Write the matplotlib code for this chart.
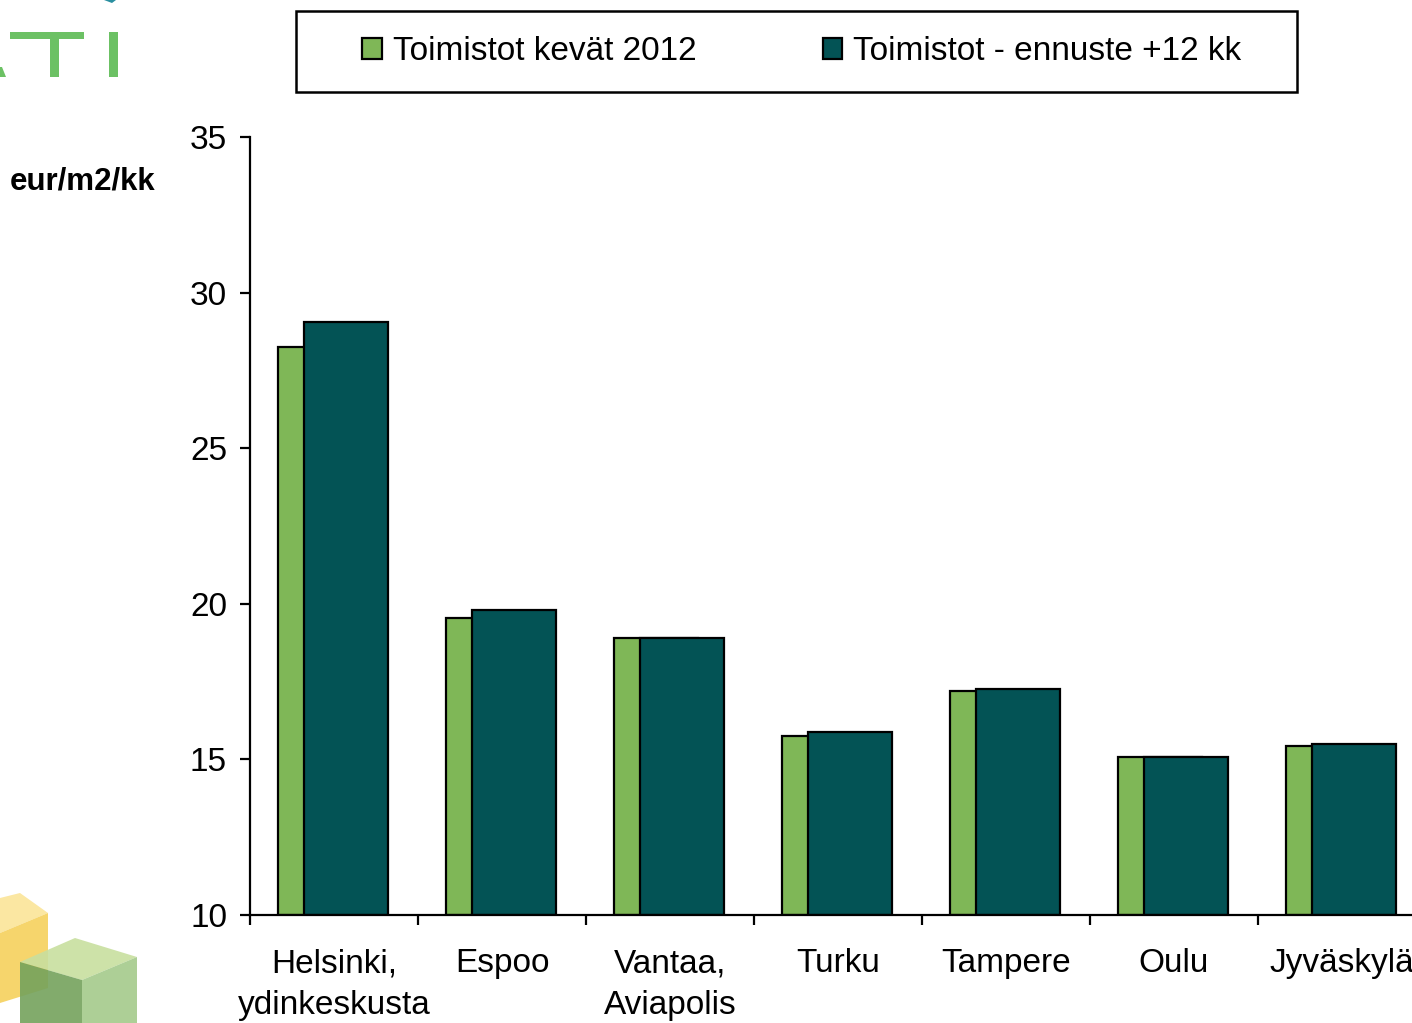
import matplotlib
matplotlib.use('Agg')
import matplotlib.pyplot as plt
from matplotlib.patches import Rectangle, Polygon
import numpy as np

plt.rcParams['font.family'] = ['Liberation Sans', 'DejaVu Sans']

# data
cities = ['Helsinki,\nydinkeskusta', 'Espoo', 'Vantaa,\nAviapolis', 'Turku',
          'Tampere', 'Oulu', 'Jyväskylä']
spring_2012 = [28.25, 19.55, 18.9, 15.75, 17.2, 15.08, 15.43]
forecast_12 = [29.06, 19.8, 18.9, 15.88, 17.26, 15.08, 15.5]
series_names = ['Toimistot kevät 2012', 'Toimistot - ennuste +12 kk']
yticks = [10, 15, 20, 25, 30, 35]

green = '#7fb757'
teal = '#035355'

W, H = 1412, 1023
fig = plt.figure(figsize=(W / 100, H / 100), dpi=100)

def fx(px):
    return px / W

def fy(py):
    return 1 - py / H

ax = fig.add_axes([fx(250), fy(915), 1176 / W, 778 / H])

x = np.arange(len(cities))
b1 = ax.bar(x - 0.083, np.array(spring_2012) - 10, 0.5, bottom=10, color=green,
            edgecolor='black', linewidth=1.6, label=series_names[0], zorder=2)
b2 = ax.bar(x + 0.07, np.array(forecast_12) - 10, 0.5, bottom=10, color=teal,
            edgecolor='black', linewidth=1.6, label=series_names[1], zorder=3)

ax.set_xlim(-0.5, len(cities) - 0.5)
ax.set_ylim(10, 35)
ax.set_yticks(yticks)
ax.tick_params(axis='y', direction='out', length=7.5, width=1.6, pad=9, labelsize=24)
ax.set_xticks(np.arange(len(cities)) - 0.5)
ax.set_xticklabels([])
ax.set_xticks(x, minor=True)
ax.set_xticklabels(cities, minor=True, fontsize=24, linespacing=1.45)
ax.tick_params(axis='x', which='major', direction='out', length=7.5, width=1.6)
ax.tick_params(axis='x', which='minor', length=0, pad=24)
for s in ['top', 'right']:
    ax.spines[s].set_visible(False)
for s in ['left', 'bottom']:
    ax.spines[s].set_linewidth(1.6)
ax.spines['bottom'].set_zorder(4)

# y unit label
fig.text(fx(10), fy(181), 'eur/m2/kk', fontsize=22.5, fontweight='bold',
         ha='left', va='center')

# legend with square frame
fig.patches.append(Rectangle((fx(296), fy(92)), 1001 / W, 81 / H, transform=fig.transFigure,
                             facecolor='white', edgecolor='black', linewidth=1.8))
leg = fig.legend(handles=[b1, b2], labels=series_names, ncol=2, frameon=False,
                 loc='center', bbox_to_anchor=(fx(802), fy(52)), fontsize=24,
                 handlelength=0.58, handleheight=0.58, handletextpad=0.33,
                 columnspacing=3.8)

# logo fragments (top-left letters and bottom-left cubes)
logo_green = '#6cc164'

def rect(x0, y0, x1, y1, color):
    fig.patches.append(Rectangle((fx(x0), fy(y1)), (x1 - x0) / W, (y1 - y0) / H,
                                 transform=fig.transFigure, facecolor=color,
                                 edgecolor='none'))

def poly(pts, color, alpha=1.0):
    fig.patches.append(Polygon([(fx(a), fy(b)) for a, b in pts], closed=True,
                               transform=fig.transFigure, facecolor=color,
                               edgecolor='none', alpha=alpha))

rect(10, 32, 84, 39, logo_green)
rect(50, 32, 59, 77, logo_green)
rect(109, 32, 118, 77, logo_green)
poly([(0, 67), (2, 67), (6, 77), (0, 77)], logo_green)
poly([(104, 0), (116, 0), (112, 3)], '#2a8fa0')

poly([(0, 898), (20, 893), (48, 913), (0, 933)], '#fbe7a2')
poly([(0, 933), (48, 913), (48, 988), (0, 1003)], '#f6d56c')
poly([(20, 962), (75, 938), (137, 957), (82, 980)], '#c8df9f', 0.9)
poly([(20, 962), (82, 980), (82, 1023), (20, 1023)], '#74a25c', 0.9)
poly([(82, 980), (137, 957), (137, 1023), (82, 1023)], '#a9cd90', 0.95)

fig.savefig('out.png', dpi=100)
